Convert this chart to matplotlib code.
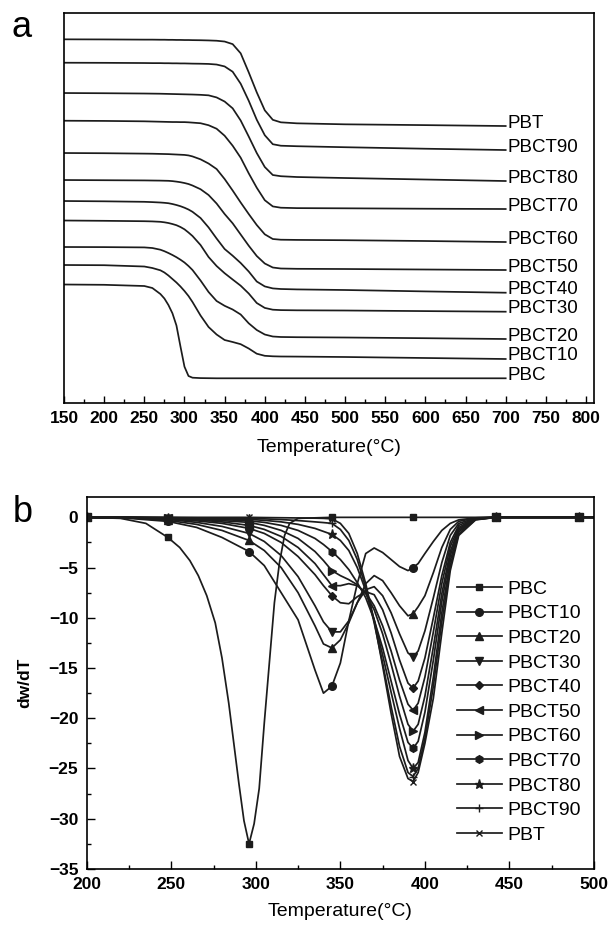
import matplotlib
matplotlib.use('Agg')
import matplotlib.pyplot as plt
from matplotlib.ticker import MultipleLocator

plt.rcParams['font.family'] = ['Liberation Sans', 'DejaVu Sans']

# ---------------- panel a: TGA curves (weight %, stacked with offsets)
temp_a = [150, 200, 250, 260, 270, 275, 280, 285, 290, 295, 300, 305, 310, 320,
          330, 340, 350, 360, 370, 380, 390, 400, 410, 420, 440, 500, 600, 700]

names_a = ['PBT', 'PBCT90', 'PBCT80', 'PBCT70', 'PBCT60', 'PBCT50',
           'PBCT40', 'PBCT30', 'PBCT20', 'PBCT10', 'PBC']
offsets_a = [260.7, 237.3, 207, 179.3, 147, 120, 99, 79.5, 53, 35, 15.5]

w_pbt = [100, 99.9, 99.7, 99.7, 99.6, 99.6, 99.5, 99.5, 99.4, 99.4, 99.3, 99.3, 99.2, 99.1,
         98.9, 98.6, 97.8, 95.2, 86, 67, 47, 29, 19.5, 17, 16, 15, 14.2, 13.3]
w_pbct90 = [100, 99.9, 99.7, 99.6, 99.6, 99.5, 99.5, 99.4, 99.4, 99.3, 99.3, 99.2, 99.1, 99.0,
            98.8, 98.2, 96.3, 91, 79, 62, 43, 27.5, 18.5, 17, 16.5, 15.5, 14, 12.7]
w_pbct80 = [100, 99.8, 99.5, 99.4, 99.3, 99.2, 99.1, 99.0, 98.9, 98.8, 98.7, 98.6, 98.5, 98.2,
            97.7, 95.6, 91.5, 84.7, 72.5, 56.5, 40, 26, 18, 16.8, 16, 15, 13.5, 12]
w_pbct70 = [100, 99.8, 99.4, 99.2, 99.0, 98.9, 98.8, 98.7, 98.7, 98.6, 98.6, 98.4, 98.1, 97.5,
            95.5, 92, 85, 75, 63, 47.4, 33, 20.5, 14.3, 13, 12.6, 12.4, 12, 11.7]
w_pbct60 = [100, 99.8, 99.4, 99.3, 99.1, 99.0, 98.9, 98.7, 98.5, 98.3, 98.1, 97.6, 96.6, 93.7,
            89.5, 84, 74, 62.5, 50.5, 39, 28, 18.7, 14, 13.3, 13.1, 12.8, 12, 11]
w_pbct50 = [100, 99.8, 99.6, 99.5, 99.4, 99.3, 99.2, 98.9, 98.4, 97.8, 97, 96, 94.5, 90.8,
            85, 76.5, 66, 56.7, 45.5, 34.3, 24, 16.5, 12.5, 11.5, 11.2, 11, 10.5, 10]
w_pbct40 = [100, 99.7, 99.2, 98.9, 98.5, 98.2, 97.8, 97, 96, 94.8, 93.3, 91.5, 89.2, 83,
            73.6, 62.5, 52, 45.3, 38, 29.5, 19.5, 14.6, 12.6, 12, 11.6, 11, 9.6, 8.3]
w_pbct30 = [100, 99.7, 99.3, 99.1, 98.7, 98.2, 97.5, 96.5, 95.3, 93.5, 91.2, 88, 84.5, 75.5,
            63.5, 54.5, 47.3, 41, 34.8, 27, 17.5, 12.6, 10.8, 10.4, 10.2, 10, 9.4, 8.8]
w_pbct20 = [100, 99.9, 99.6, 99, 97.3, 95.8, 94, 92, 89.8, 87.3, 84.5, 81, 77, 66.5,
            55, 46, 41.2, 37.5, 32.5, 23.7, 17, 12.5, 10.5, 10, 9.8, 9.5, 8.8, 8]
w_pbct10 = [100, 99.8, 98.5, 97, 94.7, 92.5, 89.5, 86, 82.5, 78.5, 74, 69, 63, 49.5,
            38, 30.5, 25, 23, 20.8, 16.5, 11.3, 9.2, 8.7, 8.5, 8.4, 8, 7, 6]
w_pbc = [100, 99.7, 98.5, 96.5, 90.5, 86, 79.5, 71.2, 59, 38, 17.8, 8.5, 6.8, 6.4,
         6.3, 6.2, 6.2, 6.2, 6.2, 6.2, 6.2, 6.2, 6.2, 6.2, 6.2, 6.2, 6.2, 6.2]

weights_a = [w_pbt, w_pbct90, w_pbct80, w_pbct70, w_pbct60, w_pbct50,
             w_pbct40, w_pbct30, w_pbct20, w_pbct10, w_pbc]

# ---------------- panel b: DTG curves
temp_b = [200, 225, 248, 265, 280, 296, 305, 315, 325, 335, 340, 345, 350, 355, 360, 365,
          370, 375, 380, 385, 390, 393, 396, 400, 405, 410, 415, 420, 430, 442, 465, 491, 500]
temp_pbc = [200, 220, 235, 248, 255, 261, 266, 271, 276, 280, 284, 287, 290, 293, 296,
            299, 302, 305, 308, 311, 314, 317, 320, 325, 345, 393, 442, 491, 500]
marker_temps = [200, 248, 296, 345, 393, 442, 491]

d_pbc = [0, -0.1, -0.6, -2.0, -3.0, -4.3, -5.8, -7.8, -10.5, -14.0, -18.5, -22.5, -26.5, -30.2,
         -32.5, -30.5, -27.0, -20.5, -14.5, -8.5, -4.5, -1.8, -0.6, -0.1, 0, 0, 0, 0, 0]
d_pbct10 = [0, -0.1, -0.4, -1.0, -2.0, -3.4, -4.8, -7.5, -10.2, -15.2, -17.5, -16.8, -14.5,
            -10.3, -6.6, -3.6, -3.05, -3.5, -4.2, -4.9, -5.3, -5.0, -4.6, -3.6, -2.4, -1.3,
            -0.6, -0.25, -0.05, 0, 0, 0, 0]
d_pbct20 = [0, -0.05, -0.3, -0.7, -1.3, -2.3, -3.3, -5.0, -7.5, -10.8, -12.6, -13.0, -12.2,
            -10.5, -8.5, -6.6, -5.8, -6.3, -7.5, -8.8, -9.8, -9.6, -8.9, -7.8, -5.5, -3.0,
            -1.2, -0.4, -0.05, 0, 0, 0, 0]
d_pbct30 = [0, -0.03, -0.2, -0.5, -0.9, -1.6, -2.4, -3.8, -5.9, -8.8, -10.4, -11.4, -11.4,
            -10.3, -8.5, -7.2, -6.9, -7.8, -9.5, -11.6, -13.5, -13.9, -13.3, -11.3, -8.0, -4.5,
            -1.8, -0.6, -0.08, 0, 0, 0, 0]
d_pbct40 = [0, -0.02, -0.15, -0.35, -0.6, -1.1, -1.6, -2.5, -3.9, -5.7, -6.8, -7.8, -8.5,
            -8.6, -7.9, -7.4, -7.7, -9.2, -11.5, -14.2, -16.5, -17.0, -16.3, -14.0, -10.0, -5.8,
            -2.5, -0.8, -0.1, 0, 0, 0, 0]
d_pbct50 = [0, -0.02, -0.1, -0.25, -0.45, -0.8, -1.2, -1.9, -3.0, -4.6, -5.7, -6.8, -6.8,
            -6.6, -6.8, -7.5, -8.8, -10.8, -13.3, -16.2, -18.6, -19.2, -18.5, -15.9, -11.4, -6.6,
            -2.9, -1.0, -0.12, 0, 0, 0, 0]
d_pbct60 = [0, -0.01, -0.08, -0.18, -0.33, -0.5, -0.8, -1.3, -2.1, -3.4, -4.3, -5.3, -5.8,
            -6.2, -6.7, -7.6, -9.2, -11.6, -14.6, -17.8, -20.6, -21.3, -20.6, -17.8, -12.9, -7.6,
            -3.4, -1.15, -0.15, 0, 0, 0, 0]
d_pbct70 = [0, 0, -0.05, -0.12, -0.22, -0.35, -0.5, -0.8, -1.3, -2.1, -2.7, -3.4, -4.2,
            -5.2, -6.5, -8.0, -10.2, -13.0, -16.3, -19.6, -22.4, -23.0, -22.3, -19.4, -14.2, -8.4,
            -3.8, -1.3, -0.17, 0, 0, 0, 0]
d_pbct80 = [0, 0, -0.03, -0.08, -0.15, -0.2, -0.3, -0.45, -0.7, -1.1, -1.4, -1.7, -2.3,
            -3.3, -5.0, -7.3, -10.2, -13.7, -17.4, -21.0, -24.2, -25.0, -24.4, -21.4, -15.9, -9.5,
            -4.3, -1.45, -0.2, 0, 0, 0, 0]
d_pbct90 = [0, 0, -0.02, -0.05, -0.08, -0.1, -0.15, -0.22, -0.32, -0.45, -0.52, -0.6, -1.2,
            -2.3, -4.2, -7.0, -10.5, -14.5, -18.8, -22.8, -25.4, -25.8, -25.0, -22.0, -16.8, -10.4,
            -4.8, -1.65, -0.22, 0, 0, 0, 0]
d_pbt = [0, 0, 0, 0, 0, 0, -0.02, -0.04, -0.06, -0.08, -0.1, -0.15, -0.6,
         -1.6, -3.6, -6.6, -10.3, -14.8, -19.5, -23.8, -26.0, -26.3, -25.4, -22.5, -18.0, -11.5,
         -5.3, -1.8, -0.25, 0, 0, 0, 0]

names_b = ['PBCT10', 'PBCT20', 'PBCT30', 'PBCT40', 'PBCT50', 'PBCT60',
           'PBCT70', 'PBCT80', 'PBCT90', 'PBT']
dtg_b = [d_pbct10, d_pbct20, d_pbct30, d_pbct40, d_pbct50, d_pbct60,
         d_pbct70, d_pbct80, d_pbct90, d_pbt]
markers_b = ['o', '^', 'v', 'D', '<', '>', 'h', '*', '+', 'x']
msizes_b = [5.5, 5.5, 5.5, 4.5, 5.5, 5.5, 5.5, 6.5, 6, 5]

line_col = '#1c1c1c'

fig = plt.figure(figsize=(6.08, 9.26), dpi=100)

# ---- panel a
ax1 = fig.add_axes([0.1053, 0.5648, 0.8717, 0.4208])
for name, w, off in zip(names_a, weights_a, offsets_a):
    y = [v + off for v in w]
    ax1.plot(temp_a, y, color=line_col, lw=1.25)
    ax1.text(702, y[-1] + 3, name, fontsize=13.5, va='center', ha='left')

ax1.set_xlim(150, 810)
ax1.set_ylim(-3, 386.7)
ax1.set_yticks([])
ax1.xaxis.set_major_locator(MultipleLocator(50))
ax1.xaxis.set_minor_locator(MultipleLocator(25))
ax1.tick_params(axis='x', which='major', direction='in', length=5, width=1, labelsize=12.5, pad=6)
ax1.tick_params(axis='x', which='minor', direction='in', length=3, width=1)
for lab in ax1.get_xticklabels():
    lab.set_fontweight('bold')
ax1.set_xlabel('Temperature(°C)', fontsize=14, labelpad=9)
for sp in ax1.spines.values():
    sp.set_linewidth(1.2)
fig.text(0.036, 0.970, 'a', fontsize=26, ha='center', va='center')

# ---- panel b
ax2 = fig.add_axes([0.1426, 0.0616, 0.8344, 0.4014])
idx_pbc = [temp_pbc.index(t) for t in marker_temps]
idx_b = [temp_b.index(t) for t in marker_temps]
ax2.plot(temp_pbc, d_pbc, color=line_col, lw=1.25, marker='s', ms=5,
         markevery=idx_pbc, label='PBC')
for name, d, mk, ms in zip(names_b, dtg_b, markers_b, msizes_b):
    ax2.plot(temp_b, d, color=line_col, lw=1.25, marker=mk, ms=ms,
             markevery=idx_b, mew=1.0, label=name)

ax2.set_xlim(200, 500)
ax2.set_ylim(-35, 2)
ax2.xaxis.set_major_locator(MultipleLocator(50))
ax2.xaxis.set_minor_locator(MultipleLocator(25))
ax2.yaxis.set_major_locator(MultipleLocator(5))
ax2.yaxis.set_minor_locator(MultipleLocator(2.5))
ax2.tick_params(which='major', direction='in', length=6, width=1, labelsize=12.5, pad=6)
ax2.tick_params(which='minor', direction='in', length=3, width=1)
for lab in ax2.get_xticklabels() + ax2.get_yticklabels():
    lab.set_fontweight('bold')
ax2.set_xlabel('Temperature(°C)', fontsize=14, labelpad=8)
ax2.set_ylabel('dw/dT', fontsize=12.5, fontweight='bold', labelpad=12)
for sp in ax2.spines.values():
    sp.set_linewidth(1.2)

ax2.legend(loc='upper left', bbox_to_anchor=(0.73, 0.777), frameon=False, fontsize=14,
           handlelength=2.3, handletextpad=0.3, labelspacing=0.36, borderpad=0,
           borderaxespad=0)
fig.text(0.038, 0.447, 'b', fontsize=26, ha='center', va='center')

fig.savefig('out.png', dpi=100)
